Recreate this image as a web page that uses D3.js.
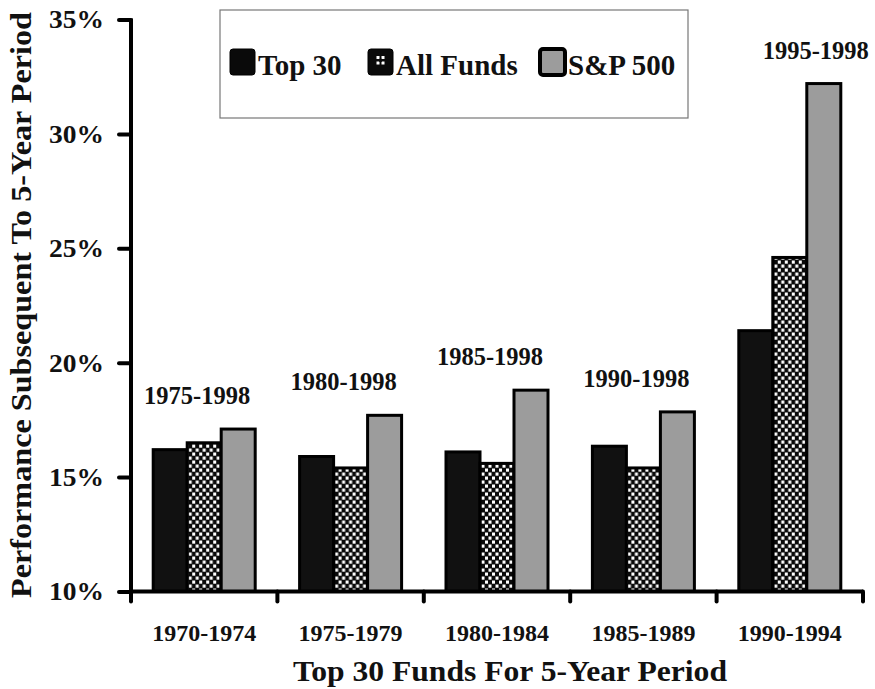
<!DOCTYPE html>
<html>
<head>
<meta charset="utf-8">
<script src="https://cdn.jsdelivr.net/npm/d3@7"></script>
<style>
  html, body { margin: 0; padding: 0; background: #fff; }
  svg { display: block; }
  text { font-family: "Liberation Serif", "Times New Roman", serif; font-weight: bold; fill: #111; }
</style>
</head>
<body>
<svg id="chart" width="875" height="689"></svg>
<script>
// ---- data ----
const categories = ["1970-1974", "1975-1979", "1980-1984", "1985-1989", "1990-1994"];
const seriesNames = ["Top 30", "All Funds", "S&P 500"];
const top30 = [16.2, 15.9, 16.1, 16.35, 21.4];
const allFunds = [16.5, 15.4, 15.6, 15.4, 24.6];
const sp500 = [17.1, 17.7, 18.8, 17.85, 32.2];
const periodLabels = ["1975-1998", "1980-1998", "1985-1998", "1990-1998", "1995-1998"];
const yTicks = [10, 15, 20, 25, 30, 35];
const xTitle = "Top 30 Funds For 5-Year Period";
const yTitle = "Performance Subsequent To 5-Year Period";

const seriesValues = [top30, allFunds, sp500];
const rows = categories.map((c, i) => ({ cat: c, vals: seriesNames.map((s, j) => ({ s, v: seriesValues[j][i] })) }));

// ---- layout ----
const svg = d3.select("#chart");
const plot = { left: 131, right: 863, top: 19.5, bottom: 591.5 };

const y = d3.scaleLinear().domain([10, 35]).range([plot.bottom, plot.top]);
const x0 = d3.scaleBand().domain(categories).range([plot.left, plot.right]).padding(0);
const innerW = 102;
const x1 = d3.scaleBand().domain(seriesNames).range([0, innerW]).padding(0);

// patterns
const defs = svg.append("defs");
const chk = defs.append("pattern").attr("id", "checker").attr("patternUnits", "userSpaceOnUse")
  .attr("width", 7).attr("height", 8);
chk.append("rect").attr("width", 7).attr("height", 8).attr("fill", "#0a0a0a");
chk.append("rect").attr("x", 0.5).attr("y", 0.5).attr("width", 3).attr("height", 3.2).attr("fill", "#fff");
chk.append("rect").attr("x", 4).attr("y", 4.5).attr("width", 3).attr("height", 3.2).attr("fill", "#fff");

const fills = { "Top 30": "#111", "All Funds": "url(#checker)", "S&P 500": "#9c9c9c" };

// bars
const groups = svg.append("g").selectAll("g").data(rows).join("g")
  .attr("transform", d => `translate(${x0(d.cat) + (x0.bandwidth() - innerW) / 2},0)`);
groups.selectAll("rect").data(d => d.vals).join("rect")
  .attr("x", d => x1(d.s))
  .attr("y", d => y(d.v))
  .attr("width", x1.bandwidth())
  .attr("height", d => y(10) - y(d.v))
  .attr("fill", d => fills[d.s])
  .attr("stroke", "#000")
  .attr("stroke-width", 3);

// period labels over groups
svg.append("g").selectAll("text").data(rows).join("text")
  .attr("x", (d, i) => i === rows.length - 1
      ? x0(d.cat) + (x0.bandwidth() - innerW) / 2 + x1("S&P 500") + x1.bandwidth() / 2 - 8
      : x0(d.cat) + x0.bandwidth() / 2 - 7)
  .attr("y", d => y(d3.max(d.vals, v => v.v)) - 25)
  .attr("text-anchor", "middle")
  .attr("font-size", 24.5)
  .text((d, i) => periodLabels[i]);

// y axis
const yAxis = d3.axisLeft(y).tickValues(yTicks).tickFormat(d => d + "%").tickSize(12).tickPadding(15);
const gy = svg.append("g").attr("transform", `translate(${plot.left},0)`).call(yAxis);
gy.select(".domain").attr("stroke", "#000").attr("stroke-width", 4)
  .attr("d", `M0,${plot.top - 1}V${plot.bottom + 10}`);
gy.selectAll(".tick line").attr("stroke", "#000").attr("stroke-width", 4).attr("stroke-linecap", "round");
gy.selectAll(".tick text").attr("font-size", 26).attr("font-family", null).attr("fill", "#111")
  .attr("textLength", 55).attr("lengthAdjust", "spacingAndGlyphs");

// x axis
const xAxis = d3.axisBottom(x0).tickSize(0).tickPadding(32);
const gx = svg.append("g").attr("transform", `translate(0,${plot.bottom})`).call(xAxis);
gx.select(".domain").attr("stroke", "#000").attr("stroke-width", 4)
  .attr("d", `M${plot.left},0H${plot.right}`);
gx.selectAll(".tick text").attr("font-size", 24).attr("font-family", null).attr("fill", "#111");
// boundary tick marks
const bounds = categories.map(c => x0(c)).concat([plot.right]);
gx.selectAll("line.bound").data(bounds).join("line").attr("class", "bound")
  .attr("x1", d => d).attr("x2", d => d).attr("y1", 0).attr("y2", 10)
  .attr("stroke", "#000").attr("stroke-width", 4).attr("stroke-linecap", "round");

// axis titles
svg.append("text").attr("x", 510).attr("y", 681).attr("text-anchor", "middle")
  .attr("font-size", 30).attr("textLength", 434).attr("lengthAdjust", "spacingAndGlyphs").text(xTitle);
svg.append("text").attr("transform", "translate(31,305) rotate(-90)").attr("text-anchor", "middle")
  .attr("font-size", 29).attr("textLength", 586).attr("lengthAdjust", "spacingAndGlyphs").text(yTitle);

// legend
const lg = svg.append("g");
lg.append("rect").attr("x", 220).attr("y", 10).attr("width", 468).attr("height", 108)
  .attr("fill", "#fff").attr("stroke", "#777").attr("stroke-width", 1.2);
const legendX = [230, 368, 540];
const li = lg.selectAll("g.item").data(seriesNames).join("g").attr("class", "item")
  .attr("transform", (d, i) => `translate(${legendX[i]},49)`);
li.append("rect").attr("width", 25).attr("height", 26).attr("rx", 3)
  .attr("fill", d => d === "S&P 500" ? "#9c9c9c" : "#0a0a0a")
  .attr("stroke", "#000").attr("stroke-width", d => d === "S&P 500" ? 4 : 1);
li.filter(d => d === "All Funds").selectAll("rect.dot")
  .data([[8.5, 7], [13.5, 7], [8.5, 12.5], [13.5, 12.5], [11, 9.8]]).join("rect").attr("class", "dot")
  .attr("x", d => d[0]).attr("y", d => d[1]).attr("width", 3).attr("height", 3)
  .attr("fill", (d, i) => i === 4 ? "#0a0a0a" : "#fff");
li.append("text").attr("x", 28).attr("y", 26).attr("font-size", 29).text(d => d);
</script>
</body>
</html>
